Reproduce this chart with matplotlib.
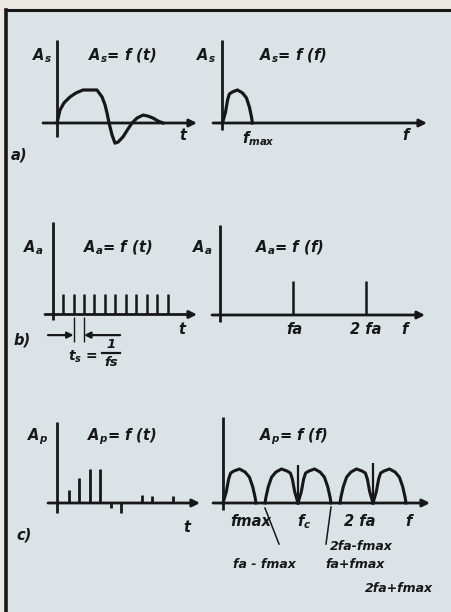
import matplotlib
matplotlib.use("Agg")
import matplotlib.pyplot as plt
from matplotlib.patches import Rectangle

# ---------------- data ----------------
# a) analogue signal A_s(t)  (t in arbitrary units, amplitude normalised)
t_sig = [0, 0.28, 0.66, 1.23, 1.79, 2.45, 3.11, 3.77, 4.25, 4.53, 4.72, 4.91,
         5.19, 5.47, 5.75, 6.23, 6.70, 7.08, 7.55, 8.11, 8.58, 9.06, 9.53, 10.0]
a_sig = [0, 0.39, 0.61, 0.79, 0.91, 1.00, 1.00, 1.00, 0.79, 0.55, 0.30, 0.0,
         -0.36, -0.61, -0.58, -0.42, -0.18, 0.0, 0.15, 0.24, 0.21, 0.15, 0.06, 0.0]
# spectrum shape of A_s(f)  (f normalised to f_max)
spec_f = [0, 0.10, 0.17, 0.23, 0.33, 0.50, 0.67, 0.80, 0.90, 0.97, 1.00]
spec_a = [0, 0.33, 0.70, 0.88, 0.94, 1.00, 0.91, 0.76, 0.48, 0.18, 0.0]
f_max = 0.44            # in units of f_a
# b) sampling pulse train (t in sampling periods)
n_pulse = [1, 2, 3, 4, 5, 6, 7, 8, 9, 10, 11]
a_pulse = [1, 1, 1, 1, 1, 1, 1, 1, 1, 1, 1]
# b) spectral lines of the pulse train (f in units of f_a)
line_f = [1, 2]
line_a_b = [1.0, 1.0]
line_a_c = [1.12, 1.18]
# c) sampled (PAM) signal
t_pam = [1.15, 2.15, 3.15, 4.15, 5.15, 6.15, 7.15, 8.15, 9.15, 10.15, 11.15]
a_pam = [0.38, 0.74, 1.0, 1.0, -0.15, -0.30, 0.0, 0.24, 0.20, 0.0, 0.20]
# c) spectrum copies: (centre in f_a, orientation)
lobe_centre = [0, 1, 1, 2, 2]
lobe_sign = [1, -1, 1, -1, 1]

# ---------------- style ----------------
W, H = 451, 612
INK = "#171717"
BG = "#dce3e6"
OUT = "#ebe8e2"
FONT = "DejaVu Sans"
plt.rcParams["font.family"] = [FONT]
plt.rcParams["mathtext.fontset"] = "custom"
for k in ("rm", "it", "bf", "sf"):
    plt.rcParams["mathtext." + k] = FONT + ":bold:italic"

fig = plt.figure(figsize=(W / 100, H / 100), dpi=100)
fig.patch.set_facecolor(OUT)
fig.patches.append(Rectangle((6 / W, 0), 1, 1 - 10 / H, transform=fig.transFigure,
                             facecolor=BG, edgecolor="none", zorder=-5))
fig.add_artist(plt.Line2D([6 / W, 1], [1 - 10 / H, 1 - 10 / H], color=INK, lw=2.2,
                          transform=fig.transFigure, zorder=-4))
fig.add_artist(plt.Line2D([6 / W, 6 / W], [0, 1 - 10 / H], color=INK, lw=2.6,
                          transform=fig.transFigure, zorder=-4))


def panel(ox, oy, sx, sy):
    """Full-figure axes whose data origin sits at pixel (ox, oy)."""
    ax = fig.add_axes([0, 0, 1, 1])
    ax.set_xlim(-ox / sx, (W - ox) / sx)
    ax.set_ylim(-(H - oy) / sy, oy / sy)
    ax.axis("off")
    ax.patch.set_alpha(0)
    ax._o = (ox, oy, sx, sy)
    return ax


def axes_lines(ax, x0, x1, y0, y1):
    ox, oy, sx, sy = ax._o
    ax.plot([0, 0], [(oy - y1) / sy, (oy - y0) / sy], color=INK, lw=2.0,
            solid_capstyle="butt")
    ax.annotate("", xy=((x1 - ox) / sx, 0), xytext=((x0 - ox) / sx, 0),
                arrowprops=dict(arrowstyle="-|>", color=INK, lw=2.0,
                                mutation_scale=11, shrinkA=0, shrinkB=0))


def T(x, y, s, size=10.5, ha="center"):
    fig.text(x / W, 1 - y / H, s, ha=ha, va="center", fontsize=size,
             fontweight="bold", style="italic", color=INK)


# ---- a) left: A_s = f(t)
ax = panel(57, 123, 10.6, 33)
axes_lines(ax, 43, 197, 40, 137)
ax.plot(t_sig, a_sig, color=INK, lw=2.3, solid_joinstyle="round")
T(42, 56, "$A_s$")
T(122, 56, "$A_s$= f (t)")
T(183, 136, "t")
T(19, 155, "a)")

# ---- a) right: A_s = f(f)
ax = panel(222.5, 123, 68, 33)
axes_lines(ax, 213, 427, 40, 130)
ax.plot([f * f_max for f in spec_f], spec_a, color=INK, lw=2.3)
T(206, 56, "$A_s$")
T(293, 56, "$A_s$= f (f)")
T(258, 139, "$f_{max}$")
T(405, 136, "f")

# ---- b) left: pulse train
ax = panel(52.7, 314.5, 10.45, 20)
axes_lines(ax, 45, 197, 222, 320)
ax.vlines(n_pulse, 0, a_pulse, color=INK, lw=1.8)
ax.vlines(n_pulse[1:3], -1.4, -0.15, color=INK, lw=1.0)
ax.annotate("", xy=(n_pulse[1], -1.03), xytext=(-0.45, -1.03),
            arrowprops=dict(arrowstyle="-|>", color=INK, lw=1.6, mutation_scale=9,
                            shrinkA=0, shrinkB=0))
ax.annotate("", xy=(n_pulse[2], -1.03), xytext=(6.45, -1.03),
            arrowprops=dict(arrowstyle="-|>", color=INK, lw=1.6, mutation_scale=9,
                            shrinkA=0, shrinkB=0))
ox, oy, sx, sy = ax._o
ax.plot([(102 - ox) / sx, (120 - ox) / sx], [(oy - 353) / sy] * 2, color=INK, lw=1.6)
T(33, 248, "$A_a$")
T(118, 248, "$A_a$= f (t)")
T(182, 330, "t")
T(22, 340, "b)")
T(83, 357, "$t_s$ =", size=10)
T(111, 344, "1", size=9.5)
T(111, 363, "fs", size=9.5)

# ---- b) right: spectral lines
ax = panel(220, 315, 73, 34)
axes_lines(ax, 212, 425, 225, 322)
ax.vlines(line_f, 0, line_a_b, color=INK, lw=1.8)
T(202, 248, "$A_a$")
T(289, 248, "$A_a$= f (f)")
T(294, 330, "fa")
T(366, 330, "2 fa")
T(404, 330, "f")

# ---- c) left: PAM signal
ax = panel(57, 503, 10.4, 34)
axes_lines(ax, 48, 200, 422, 513)
ax.vlines(t_pam, 0, a_pam, color=INK, lw=2.0)
T(38, 437, "$A_p$")
T(122, 437, "$A_p$= f (t)")
T(187, 527, "t")
T(24, 535, "c)")

# ---- c) right: spectrum of PAM signal
ax = panel(223, 503, 75, 34)
axes_lines(ax, 213, 430, 417, 510)
for c, s in zip(lobe_centre, lobe_sign):
    ax.plot([c + s * f * f_max for f in spec_f], spec_a, color=INK, lw=2.2,
            solid_joinstyle="round")
ax.vlines(line_f, 0, line_a_c, color=INK, lw=1.6)
ox, oy, sx, sy = ax._o
ax.plot([line_f[0] - f_max, (279 - ox) / sx], [-0.15, (oy - 544) / sy], color=INK, lw=1.1)
ax.plot([line_f[0] + f_max, (326 - ox) / sx], [-0.12, (oy - 544) / sy], color=INK, lw=1.1)
T(294, 437, "$A_p$= f (f)")
T(251, 522, "fmax")
T(304, 522, "f$_c$")
T(360, 522, "2 fa")
T(408, 522, "f")
T(264, 564, "fa - fmax", size=9)
T(330, 546, "2fa-fmax", size=9, ha="left")
T(325, 564, "fa+fmax", size=9, ha="left")
T(365, 588, "2fa+fmax", size=9, ha="left")

fig.savefig("out.png", dpi=100, facecolor=fig.get_facecolor())
